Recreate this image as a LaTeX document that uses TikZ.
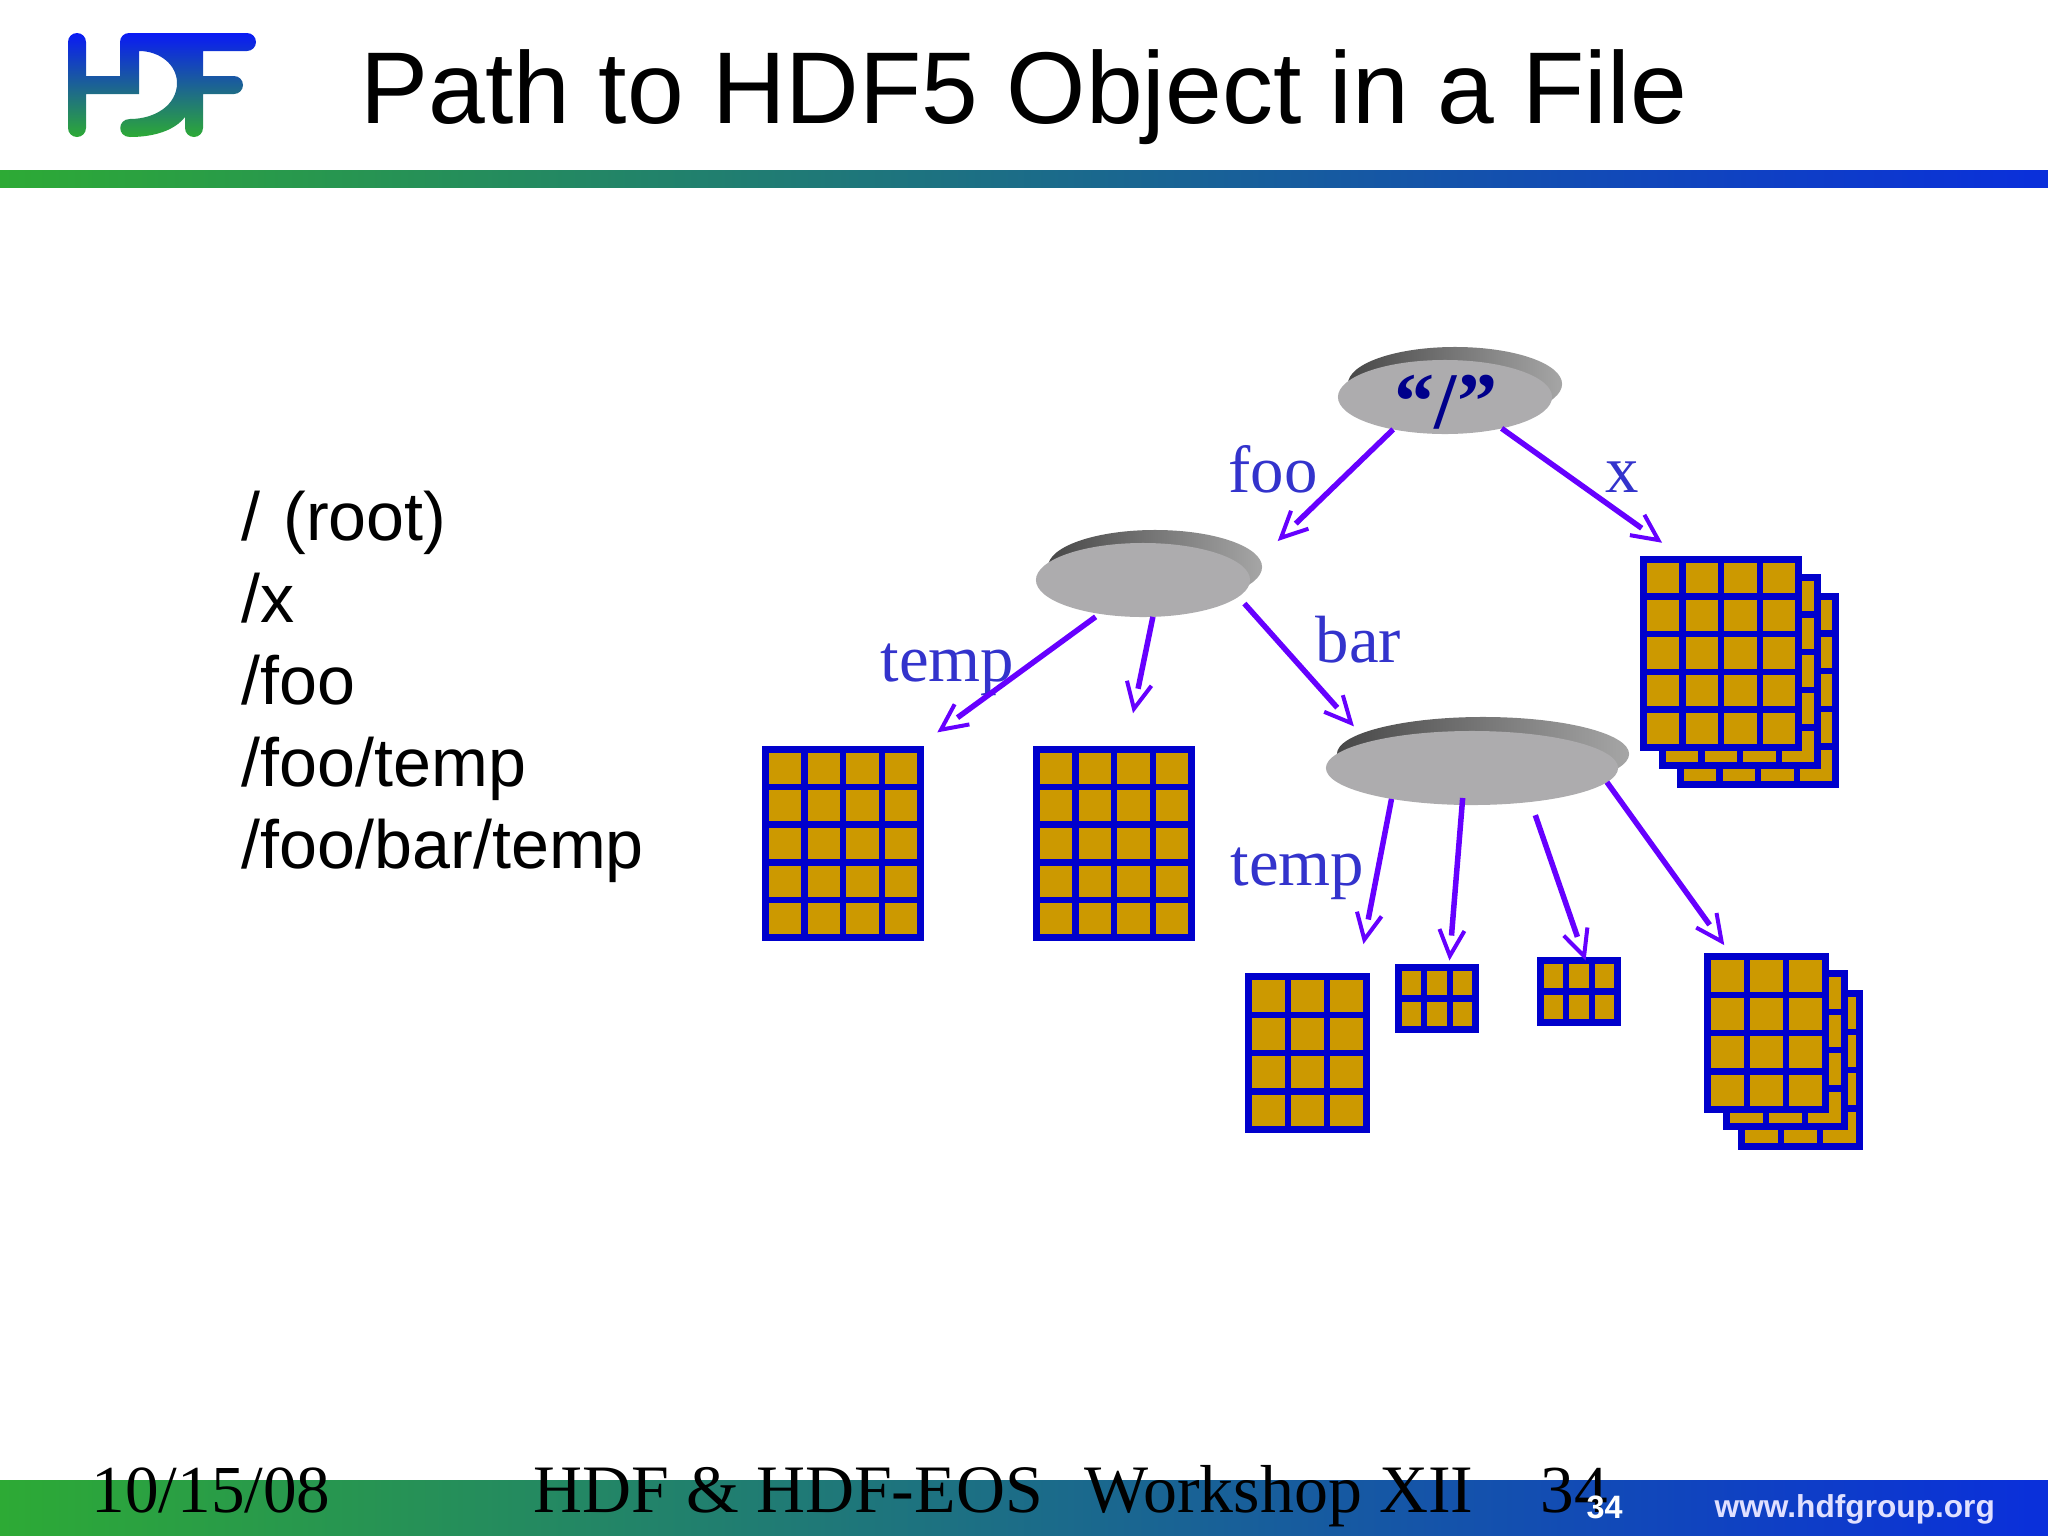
\documentclass[tikz,border=0pt]{standalone}
\usepackage{fontspec}
\setmainfont{Liberation Sans}
\newfontfamily\timesfont{Liberation Serif}
\usetikzlibrary{arrows.meta,shapes.geometric,calc}

\definecolor{hdfgreen}{HTML}{2DAA35}
\definecolor{hdfblue}{HTML}{0A2FDB}
\definecolor{logoblue}{HTML}{0A1AF5}
\definecolor{logoteal}{HTML}{1E7C7A}
\definecolor{gridblue}{HTML}{0000CC}
\definecolor{gridgold}{HTML}{CC9900}
\definecolor{linkviolet}{HTML}{6600FF}
\definecolor{labelblue}{HTML}{3333CC}
\definecolor{rootblue}{HTML}{00008B}
\definecolor{diskgray}{HTML}{ADACAE}

% head is drawn by the edge itself, the shaft stops short of it
\tikzset{link/.style={->, draw=linkviolet, line width=0.055cm, dash pattern=on 0pt off 100cm, shorten >=#1,
	postaction={draw, -, solid, shorten >=#1+0.25cm}}, link/.default=0cm}

% name, centre x, centre y, outer width, outer height, columns, rows
\newcommand{\gridnode}[7]{
	\node[gridbox, minimum width=(#4-7)*0.01cm, minimum height=(#5-7)*0.01cm] (#1) at (#2, #3) {};
	\foreach \c in {2,...,#6}
		\draw[gridline] ($(#1.north west)!{(\c-1)/#6}!(#1.north east)$) -- ($(#1.south west)!{(\c-1)/#6}!(#1.south east)$);
	\foreach \r in {2,...,#7}
		\draw[gridline] ($(#1.north west)!{(\r-1)/#7}!(#1.south west)$) -- ($(#1.north east)!{(\r-1)/#7}!(#1.south east)$);
}

\begin{document}
\begin{tikzpicture}[x=0.01cm, y=-0.01cm, >={Straight Barb[length=0.26cm, width=0.25cm, line width=0.04cm]}, node distance=0.82cm]
		
		\tikzstyle{gridbox}=[rectangle, draw=gridblue, fill=gridgold, line width=0.07cm, inner sep=0, outer sep=0]
		\tikzstyle{gridline}=[draw=gridblue, line width=0.065cm]
		\tikzstyle{disktop}=[ellipse, fill=diskgray, inner sep=0, outer sep=0, minimum height=0.74cm]
		\tikzstyle{diskback}=[ellipse, left color=black!72, middle color=black!78, right color=black!35, inner sep=0, outer sep=0, minimum height=0.74cm]
		\tikzstyle{linklabel}=[anchor=base west, inner sep=0, text=labelblue, font=\timesfont\fontsize{19}{23}\selectfont]
		\tikzstyle{listline}=[text width=4.5cm, align=left, inner sep=0, text height=0.5cm, text depth=0.15cm, font=\fontsize{19.4}{23}\selectfont]
		\tikzstyle{footer}=[anchor=base west, inner sep=0, font=\timesfont\fontsize{19.1}{23}\selectfont]
		
		\useasboundingbox (0, 0) rectangle (2048, 1536);
		
		% Header and footer bars
		\shade[left color=hdfgreen, middle color=hdfblue!70!hdfgreen, right color=hdfblue] (0, 170) rectangle (2048, 187);
		\shade[left color=hdfgreen, middle color=hdfblue!80!hdfgreen, right color=hdfblue] (0, 1480) rectangle (2048, 1536);
		
		% Logo
		\shade[top color=logoblue, middle color=logoteal, bottom color=hdfgreen]
			[rounded corners=0.09cm] (68, 33) rectangle (86, 137) (120, 33) rectangle (256, 51) (185, 40) rectangle (203, 137) (190, 76) rectangle (243, 94)
			[sharp corners] (77, 76) rectangle (139, 94) (120, 42) rectangle (139, 94)
			(139, 51) .. controls (160, 51) and (177, 65) .. (177, 83) .. controls (177, 105) and (155, 119) .. (130, 119)
			.. controls (117, 119) and (117, 137) .. (130, 137) .. controls (155, 137) and (175, 130) .. (185, 117) -- (185, 51) -- cycle;
		
		\node[anchor=base west, inner sep=0, font=\fontsize{29}{35}\selectfont] (title) at (360, 123) {Path to HDF5 Object in a File};
		
		% Paths on the left
		\node[listline] (line1) at (467, 523) {/ (root)};
		\node[listline, below of=line1] (line2) {/x};
		\node[listline, below of=line2] (line3) {/foo};
		\node[listline, below of=line3] (line4) {/foo/temp};
		\node[listline, below of=line4] (line5) {/foo/bar/temp};
		
		% Groups
		\node[diskback, minimum width=2.14cm] (rootback) at (1455, 384) {};
		\node[disktop, minimum width=2.14cm] (root) at (1445, 397) {};
		\node[inner sep=0, text=rootblue, font=\timesfont\bfseries\fontsize{22.8}{27}\selectfont] (rootname) at (1446, 402) {“/”};
		\node[diskback, minimum width=2.14cm] (fooback) at (1155, 567) {};
		\node[disktop, minimum width=2.14cm] (foodisk) at (1143, 580) {};
		\node[diskback, minimum width=2.92cm] (barback) at (1483, 754) {};
		\node[disktop, minimum width=2.92cm] (bardisk) at (1472, 768) {};
		
		% Datasets
		\gridnode{xback}{1758}{690}{162}{195}{4}{5}
		\gridnode{xmid}{1740}{671}{162}{195}{4}{5}
		\gridnode{xdata}{1721}{653}{162}{195}{4}{5}
		\gridnode{tempdata}{843}{843.5}{162}{195}{4}{5}
		\gridnode{otherdata}{1114}{843.5}{162}{195}{4}{5}
		\gridnode{bartemp}{1307.5}{1053}{125}{160}{3}{4}
		\gridnode{smallone}{1437}{998.5}{84}{69}{3}{2}
		\gridnode{smalltwo}{1579}{991.5}{84}{69}{3}{2}
		\gridnode{stackback}{1800.5}{1070}{125}{160}{3}{4}
		\gridnode{stackmid}{1785.5}{1050}{125}{160}{3}{4}
		\gridnode{stackfront}{1766.5}{1033}{125}{160}{3}{4}
		
		% Labels
		\node[linklabel] (foolabel) at (1228, 492) {foo};
		\node[linklabel] (xlabel) at (1605, 492) {x};
		\node[linklabel] (barlabel) at (1315, 662) {bar};
		\node[linklabel] (templabel) at (880, 681) {temp};
		\node[linklabel] (bartemplabel) at (1230, 885) {temp};
		
		% Links
		\path (root.212) edge[link=0.43cm] (foodisk.5);
		\path (root.331) edge[link=0.28cm] (xdata.111);
		\path (foodisk.218) edge[link=0.29cm, shorten <=0.05cm] (tempdata.53);
		\path (foodisk.285) edge[link=0.37cm] (otherdata.83);
		\path (foodisk.350) edge[link=0.21cm, shorten <=0.09cm] (bardisk.166);
		\path (bardisk.201) edge[link=0.33cm] (bartemp.57);
		\path (bardisk.255) edge[link=0.07cm, shorten <=-0.07cm] (smallone.69);
		\path (bardisk.330) edge[link, shorten <=0.14cm] (smalltwo.78);
		\path (bardisk.354) edge[link=0.14cm] (stackfront.114);
		
		% Footer
		\node[footer] (date) at (91, 1512) {10/15/08};
		\node[footer, font=\timesfont\fontsize{19.3}{23}\selectfont] (workshop) at (533, 1512) {HDF \& HDF-EOS\hspace{0.62em}Workshop XII};
		\node[footer] (pagetext) at (1540, 1512) {34};
		\node[anchor=base west, inner sep=0, text=white, font=\bfseries\fontsize{9.2}{11}\selectfont] (pagenumber) at (1586, 1518) {34};
		\node[anchor=base west, inner sep=0, text=blue!12, font=\bfseries\fontsize{9}{11}\selectfont] (website) at (1714, 1517) {www.hdfgroup.org};
		
	\end{tikzpicture}
\end{document}
